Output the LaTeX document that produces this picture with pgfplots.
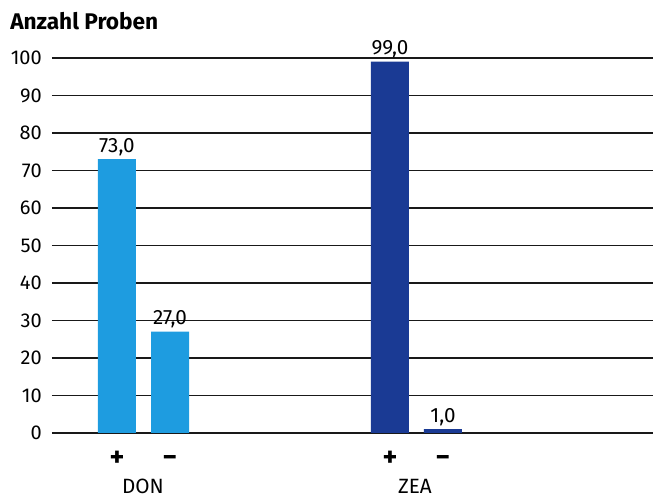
\documentclass[border=0pt]{standalone}
\usepackage{fontspec}
\setmainfont{Fira Sans}
\usepackage{pgfplots}
\pgfplotsset{compat=1.18}
\definecolor{donblue}{RGB}{30,156,224}
\definecolor{zeablue}{RGB}{26,58,148}
\begin{document}
\fontsize{14.5}{17}\selectfont
\begin{tikzpicture}
\begin{axis}[
  scale only axis,
  width=450.75pt, height=281.25pt,
  xmin=-0.2264, xmax=11.113,
  ymin=0, ymax=100,
  ytick={0,10,...,100},
  xtick={1,2,6.15,7.15},
  xticklabels={\textbf{+},\textbf{−},\textbf{+},\textbf{−}},
  axis line style={draw=none},
  major tick style={draw=none},
  ymajorgrids,
  grid style={black!90, line width=1.2pt},
  /pgf/number format/assume math mode=true,
  yticklabel style={anchor=east, inner sep=0pt, xshift=-7.5pt, font=\fontsize{15}{17}\selectfont},
  xticklabel style={anchor=base, inner sep=0pt, yshift=-21pt, font=\fontsize{21}{23}\selectfont},
  ybar, bar width=28.5pt, bar shift=0pt,
  nodes near coords={\pgfmathprintnumber[fixed,fixed zerofill,precision=1,use comma,assume math mode=true]{\pgfplotspointmeta}},
  nodes near coords style={font=\fontsize{15.5}{17}\selectfont, inner sep=2.5pt, anchor=south, text=black},
  clip=false,
]
\addplot[fill=donblue, draw=none] coordinates {(1,73) (2,27)};
\addplot[fill=zeablue, draw=none] coordinates {(6.15,99) (7.15,1)};
\node[anchor=base, inner sep=0pt, yshift=-45.5pt, font=\fontsize{15.5}{18}\selectfont] at (axis cs:1.49,0) {DON};
\node[anchor=base, inner sep=0pt, yshift=-45.5pt, font=\fontsize{15.5}{18}\selectfont] at (axis cs:6.62,0) {ZEA};
\end{axis}
\node[anchor=base west, inner sep=0pt, font=\fontsize{17}{20}\selectfont\bfseries] at (-31.5pt,302.25pt) {Anzahl Proben};
\pgfresetboundingbox
\path[use as bounding box] (-39pt,-48.75pt) rectangle (457.5pt,324.75pt);
\end{tikzpicture}
\end{document}
